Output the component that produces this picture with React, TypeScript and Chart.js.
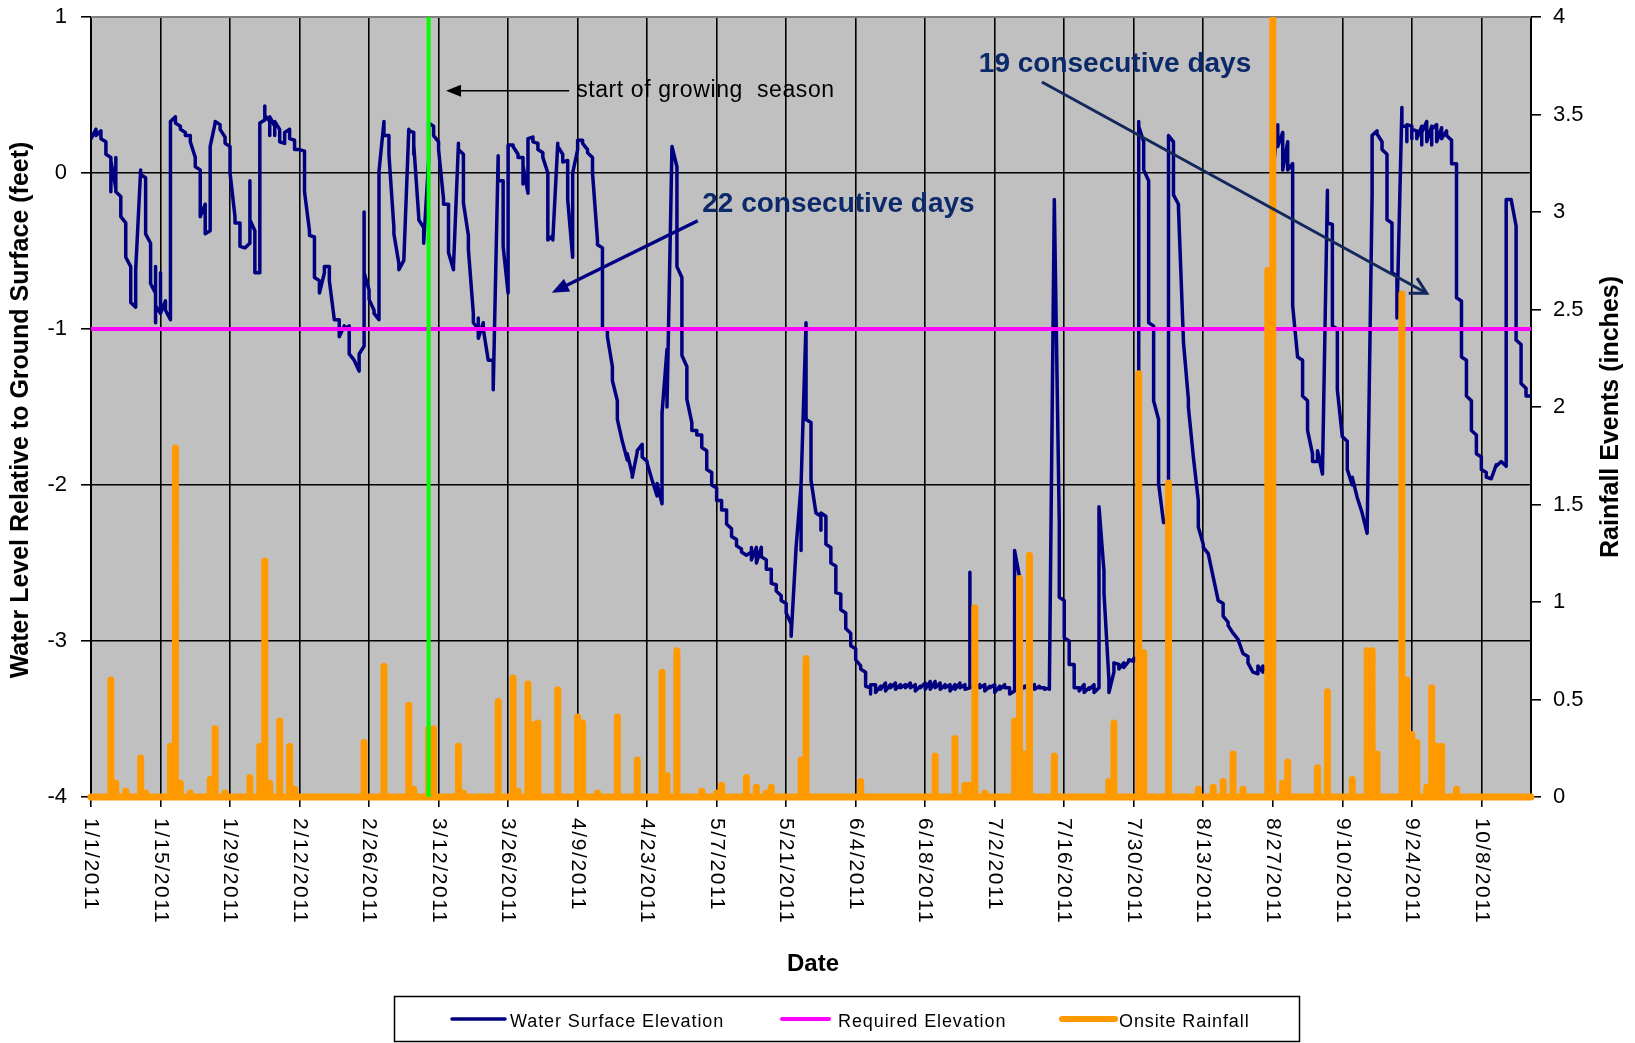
import React, { useEffect, useRef } from 'react';
import { Chart, registerables } from 'chart.js';

Chart.register(...registerables);

// ---------------- DATA ----------------
const YEAR = 2011;
const monthStartDay = [0, 31, 59, 90, 120, 151, 181, 212, 243, 273, 304, 334];

// Water level readings (feet relative to ground surface): [day of month, ...readings that day]
const waterJan = [
  [1, 0.25, 0.22], [2, 0.28, 0.24], [3, 0.27, 0.22], [4, 0.2, 0.12], [5, 0.1, -0.12, 0.08],
  [6, -0.1, 0.1, -0.12], [7, -0.15, -0.28], [8, -0.32, -0.54], [9, -0.6, -0.62, -0.83], [10, -0.86, -0.62],
  [11, 0.02, -0.01], [12, -0.03, -0.39], [13, -0.45, -0.71], [14, -0.77, -0.6, -0.96, -0.85], [15, -0.9, -0.64, -0.9],
  [16, -0.82, -0.88], [17, -0.94, 0.33], [18, 0.36, 0.32], [19, 0.3, 0.28], [20, 0.26, 0.24],
  [21, 0.24, 0.2], [22, 0.1, 0.04], [23, 0.02, -0.28], [24, -0.2, -0.39], [25, -0.37, 0.15, 0.17],
  [26, 0.32, 0.33], [27, 0.31, 0.28], [28, 0.23, 0.19], [29, 0.17, 0.0], [30, -0.28, -0.32], [31, -0.32, -0.47],
];
const waterFeb = [
  [1, -0.48], [2, -0.45, -0.05, -0.3], [3, -0.37, -0.64], [4, -0.64, 0.32], [5, 0.34, 0.43, 0.37],
  [6, 0.33, 0.24, 0.36], [7, 0.3, 0.24, 0.33], [8, 0.28, 0.2], [9, 0.19, 0.26], [10, 0.28, 0.22],
  [11, 0.21, 0.15], [12, 0.15], [13, 0.14, -0.12], [14, -0.37, -0.4], [15, -0.41, -0.67],
  [16, -0.69, -0.77], [17, -0.64, -0.6], [18, -0.6, -0.69], [19, -0.94], [20, -0.94, -1.05],
  [21, -0.98, -1.0], [22, -0.98, -1.16], [23, -1.2], [24, -1.27, -1.16], [25, -1.11, -0.25, -0.64],
  [26, -0.75, -0.81], [27, -0.88, -0.9], [28, -0.94, 0.01],
];
const waterMar = [
  [1, 0.33, 0.24], [2, 0.24, 0.12], [3, -0.35, -0.39], [4, -0.58, -0.62], [5, -0.56, -0.56],
  [6, 0.28, 0.27], [7, 0.26, 0.12, 0.18], [8, -0.28, -0.3], [9, -0.35, -0.45], [10, 0.08, 0.32],
  [11, 0.3, 0.24], [12, 0.2, 0.15], [13, -0.17, -0.2], [14, -0.2, -0.51], [15, -0.62, -0.6],
  [16, 0.19, 0.15], [17, 0.12, -0.19], [18, -0.4, -0.49], [19, -0.9, -0.96], [20, -1.0, -0.93, -1.06],
  [21, -0.96, -1.0], [22, -1.2, -1.2], [23, -1.2, -1.39], [24, 0.11, -0.05], [25, -0.05, -0.47],
  [26, -0.77, 0.18], [27, 0.18, 0.17], [28, 0.12, 0.1], [29, 0.1, -0.07, 0.05], [30, -0.13, 0.22], [31, 0.23, 0.2],
];
const waterApr = [
  [1, 0.19, 0.15], [2, 0.13, 0.1], [3, 0.0, -0.43], [4, -0.4, -0.43], [5, 0.19, 0.17],
  [6, 0.12, 0.07], [7, 0.08, -0.17], [8, -0.54, 0.0], [9, 0.15, 0.21], [10, 0.21, 0.19],
  [11, 0.15, 0.13], [12, 0.1, 0.0], [13, -0.43, -0.46], [14, -0.48, -1.0], [15, -1.0, -1.05],
  [16, -1.24, -1.24, -1.33], [17, -1.46, -1.58], [18, -1.72, -1.72], [19, -1.84, -1.8], [20, -1.93, -1.95],
  [21, -1.79, -1.78], [22, -1.74, -1.82], [23, -1.85, -1.86], [24, -1.97, -1.97], [25, -2.07, -1.99],
  [26, -2.12, -1.54], [27, -1.13, -1.5], [28, 0.17, 0.17], [29, 0.04, -0.6], [30, -0.67, -1.17],
];
const waterMay = [
  [1, -1.24, -1.45], [2, -1.6, -1.65], [3, -1.65, -1.68], [4, -1.68, -1.76], [5, -1.78, -1.9],
  [6, -1.92, -2.0], [7, -2.02, -2.1], [8, -2.1, -2.16], [9, -2.16, -2.25], [10, -2.28, -2.33],
  [11, -2.35, -2.39], [12, -2.41, -2.43], [13, -2.45, -2.45], [14, -2.43, -2.4, -2.48], [15, -2.4, -2.5],
  [16, -2.4, -2.46], [17, -2.48, -2.54], [18, -2.54, -2.63], [19, -2.64, -2.68], [20, -2.71, -2.74],
  [21, -2.76, -2.82], [22, -2.89, -2.97], [23, -2.4], [24, -2.0, -2.42, -2.0], [25, -0.96, -1.58],
  [26, -1.6, -1.97], [27, -2.18], [28, -2.2, -2.29, -2.18], [29, -2.2, -2.38], [30, -2.4, -2.5], [31, -2.52, -2.69],
];
const waterJun = [
  [1, -2.7, -2.8], [2, -2.82, -2.92], [3, -2.95, -3.03], [4, -3.05, -3.12], [5, -3.16, -3.18],
  [6, -3.2, -3.29], [7, -3.3, -3.34, -3.28], [8, -3.28, -3.33], [9, -3.29, -3.31], [10, -3.27, -3.32],
  [11, -3.28, -3.3], [12, -3.27, -3.31], [13, -3.28, -3.3], [14, -3.28, -3.3], [15, -3.27, -3.3],
  [16, -3.28, -3.32], [17, -3.29, -3.3], [18, -3.27, -3.31], [19, -3.26, -3.31], [20, -3.26, -3.3],
  [21, -3.27, -3.31], [22, -3.28, -3.3], [23, -3.28, -3.32], [24, -3.28, -3.31], [25, -3.27, -3.3],
  [26, -3.28, -3.31], [27, -3.3, -2.56, -3.3], [28, -3.28, -3.31], [29, -3.28, -3.3], [30, -3.28, -3.32],
];
const waterJul = [
  [1, -3.29, -3.3], [2, -3.28, -3.33], [3, -3.29, -3.31], [4, -3.28, -3.3], [5, -3.3, -3.34],
  [6, -3.32, -2.42], [7, -2.59, -3.32], [8, -3.29, -3.3], [9, -3.27, -3.3], [10, -3.28, -3.31],
  [11, -3.29, -3.3], [12, -3.3, -3.31], [13, -3.3, -3.31], [14, -0.17], [15, -2.24, -2.31, -2.72],
  [16, -2.74, -2.98], [17, -3.0, -3.15], [18, -3.15, -3.3], [19, -3.3, -3.32], [20, -3.28, -3.33],
  [21, -3.3, -3.31], [22, -3.28, -3.33], [23, -3.3, -2.14], [24, -2.55, -2.69], [25, -3.25, -3.33],
  [26, -3.2, -3.14], [27, -3.15, -3.18], [28, -3.14, -3.17], [29, -3.13, -3.12], [30, -3.13, -3.11],
  [31, -3.12, 0.33, 0.1, 0.3],
];
const waterAug = [
  [1, 0.2, 0.02], [2, -0.05, -0.96], [3, -0.98, -1.46], [4, -1.58, -1.99], [5, -2.24],
  [6, -2.24, 0.24], [7, 0.2, -0.14], [8, -0.2, -0.22], [9, -1.07, -1.08], [10, -1.45, -1.5],
  [11, -1.82], [12, -2.1, -2.27], [13, -2.38, -2.4], [14, -2.44, -2.44], [15, -2.59],
  [16, -2.74], [17, -2.76, -2.84], [18, -2.88, -2.9], [19, -2.95, -2.95], [20, -2.99],
  [21, -3.08], [22, -3.1, -3.14], [23, -3.2], [24, -3.21, -3.16], [25, -3.2, -3.16],
  [26, -3.2, -3.16], [27, -0.6, 0.0], [28, 0.31, 0.17], [29, 0.26, 0.02], [30, 0.2, 0.02], [31, 0.06, -0.8, -0.85],
];
const waterSep = [
  [1, -1.18], [2, -1.2, -1.43], [3, -1.46, -1.65], [4, -1.8, -1.85], [5, -1.85, -1.78],
  [6, -1.93, -1.8, -1.93], [7, -0.11, -0.32], [8, -0.33, -0.98], [9, -1.0, -1.39], [10, -1.69],
  [11, -1.72, -1.9], [12, -2.0, -1.95], [13, -2.08], [14, -2.18], [15, -2.31, -2.3],
  [16, -0.14, 0.24], [17, 0.27, 0.25], [18, 0.2, 0.15], [19, 0.12, -0.3], [20, -0.32, -0.64],
  [21, -0.66, -0.85, -0.93], [22, 0.42, 0.3], [23, 0.3, 0.2, 0.31], [24, 0.3, 0.22, 0.28], [25, 0.27, 0.22],
  [26, 0.3, 0.18, 0.26], [27, 0.33, 0.2], [28, 0.3, 0.18, 0.28], [29, 0.31, 0.2], [30, 0.29, 0.22],
];
const waterOct = [
  [1, 0.27, 0.24], [2, 0.21, 0.06], [3, 0.06, -0.8], [4, -0.82, -1.18], [5, -1.2, -1.43],
  [6, -1.46, -1.65], [7, -1.68, -1.8], [8, -1.82, -1.9], [9, -1.92, -1.95], [10, -1.96],
  [11, -1.87, -1.88], [12, -1.85], [13, -1.88, -0.17], [14, -0.17, -0.17], [15, -0.34, -1.07],
  [16, -1.1, -1.35], [17, -1.38, -1.43], [18, -1.43],
];

// Onsite rainfall (inches): [day of month, inches]
const rainJan = [[5, 0.6], [6, 0.07], [8, 0.03], [11, 0.2], [12, 0.02], [17, 0.26], [18, 1.79], [19, 0.07], [21, 0.02], [25, 0.09], [26, 0.35], [28, 0.02]];
const rainFeb = [[2, 0.1], [4, 0.26], [5, 1.21], [6, 0.07], [8, 0.39], [10, 0.26], [11, 0.04], [25, 0.28]];
const rainMar = [[1, 0.67], [6, 0.47], [7, 0.04], [10, 0.35], [11, 0.35], [16, 0.26], [17, 0.02], [24, 0.49], [27, 0.61], [28, 0.03], [30, 0.58], [31, 0.37]];
const rainApr = [[1, 0.38], [5, 0.55], [9, 0.41], [10, 0.38], [13, 0.02], [17, 0.41], [21, 0.19], [26, 0.64], [27, 0.11], [29, 0.75]];
const rainMay = [[4, 0.03], [7, 0.02], [8, 0.06], [13, 0.1], [15, 0.05], [17, 0.02], [18, 0.05], [24, 0.19], [25, 0.71]];
const rainJun = [[5, 0.08], [20, 0.21], [24, 0.3], [26, 0.06], [27, 0.06], [28, 0.97], [30, 0.02]];
const rainJul = [[6, 0.39], [7, 1.12], [8, 0.22], [9, 1.24], [14, 0.21], [25, 0.08], [26, 0.38], [31, 2.17]];
const rainAug = [[1, 0.74], [6, 1.61], [12, 0.04], [15, 0.05], [17, 0.08], [19, 0.22], [21, 0.04], [26, 2.7], [27, 4.4], [29, 0.07], [30, 0.18]];
const rainSep = [[5, 0.15], [7, 0.54], [12, 0.09], [15, 0.75], [16, 0.75], [17, 0.22], [22, 2.58], [23, 0.6], [24, 0.32], [25, 0.28], [27, 0.05], [28, 0.56], [29, 0.26], [30, 0.26]];
const rainOct = [[3, 0.04]];

const dateTickLabels = [
  '1/1/2011', '1/15/2011', '1/29/2011', '2/12/2011', '2/26/2011', '3/12/2011', '3/26/2011',
  '4/9/2011', '4/23/2011', '5/7/2011', '5/21/2011', '6/4/2011', '6/18/2011', '7/2/2011',
  '7/16/2011', '7/30/2011', '8/13/2011', '8/27/2011', '9/10/2011', '9/24/2011', '10/8/2011',
];
const axisStartDate = '1/1/2011';
const axisEndDate = '10/18/2011';
const growingSeasonStart = '3/10/2011';
const requiredElevation = -1;
const waterAxisTicks = [-4, -3, -2, -1, 0, 1];
const rainAxisTicks = [0, 0.5, 1, 1.5, 2, 2.5, 3, 3.5, 4];

// ---------------- helpers ----------------
function dayIndex(dateStr: string): number {
  const [m, d, y] = dateStr.split('/').map(Number);
  return Math.round((Date.UTC(y, m - 1, d) - Date.UTC(YEAR, 0, 1)) / 86400000);
}

const waterMonths = [waterJan, waterFeb, waterMar, waterApr, waterMay, waterJun, waterJul, waterAug, waterSep, waterOct];
const rainMonths = [rainJan, rainFeb, rainMar, rainApr, rainMay, rainJun, rainJul, rainAug, rainSep, rainOct];

const endDay = dayIndex(axisEndDate);
const startDay = dayIndex(axisStartDate);

const waterPoints: { x: number; y: number }[] = [];
waterMonths.forEach((rows, mi) => {
  rows.forEach((row) => {
    const day = monthStartDay[mi] + row[0] - 1;
    for (let k = 1; k < row.length; k++) waterPoints.push({ x: day, y: row[k] });
  });
});

const rainPoints: { x: number; y: number }[] = [{ x: startDay, y: 0 }];
rainMonths.forEach((rows, mi) => {
  rows.forEach(([dom, v]) => {
    const day = monthStartDay[mi] + dom - 1;
    rainPoints.push({ x: day, y: 0 }, { x: day, y: v }, { x: day, y: 0 });
  });
});
rainPoints.push({ x: endDay, y: 0 });

const gsDay = dayIndex(growingSeasonStart);

const FONT = "'Liberation Sans', Arial, Helvetica, sans-serif";

function drawArrow(ctx: CanvasRenderingContext2D, x1: number, y1: number, x2: number, y2: number,
  color: string, width: number, filled: boolean, len: number, half: number) {
  const ang = Math.atan2(y2 - y1, x2 - x1);
  ctx.save();
  ctx.strokeStyle = color;
  ctx.fillStyle = color;
  ctx.lineWidth = width;
  ctx.lineCap = 'butt';
  ctx.lineJoin = 'miter';
  if (filled) {
    const bx = x2 - Math.cos(ang) * len;
    const by = y2 - Math.sin(ang) * len;
    ctx.beginPath();
    ctx.moveTo(x1, y1);
    ctx.lineTo(bx + Math.cos(ang) * 2, by + Math.sin(ang) * 2);
    ctx.stroke();
    const px = -Math.sin(ang), py = Math.cos(ang);
    ctx.beginPath();
    ctx.moveTo(x2, y2);
    ctx.lineTo(bx + px * half, by + py * half);
    ctx.lineTo(bx - px * half, by - py * half);
    ctx.closePath();
    ctx.fill();
  } else {
    ctx.beginPath();
    ctx.moveTo(x1, y1);
    ctx.lineTo(x2, y2);
    ctx.stroke();
    const a1 = ang + Math.PI - 0.5, a2 = ang + Math.PI + 0.5;
    ctx.beginPath();
    ctx.moveTo(x2 + Math.cos(a1) * len, y2 + Math.sin(a1) * len);
    ctx.lineTo(x2, y2);
    ctx.lineTo(x2 + Math.cos(a2) * len, y2 + Math.sin(a2) * len);
    ctx.stroke();
  }
  ctx.restore();
}

const decorPlugin = {
  id: 'decor',
  beforeDraw(chart: any) {
    const { ctx, chartArea: a } = chart;
    ctx.save();
    ctx.fillStyle = '#ffffff';
    ctx.fillRect(0, 0, chart.width, chart.height);
    ctx.fillStyle = '#C0C0C0';
    ctx.fillRect(a.left, a.top, a.right - a.left, a.bottom - a.top);
    ctx.restore();
  },
  beforeDatasetsDraw(chart: any) {
    const { ctx, chartArea: a } = chart;
    ctx.save();
    ctx.strokeStyle = '#808080';
    ctx.lineWidth = 2;
    ctx.beginPath();
    ctx.moveTo(a.left, a.top);
    ctx.lineTo(a.right, a.top);
    ctx.stroke();
    ctx.restore();
  },
  afterDraw(chart: any) {
    const { ctx, chartArea: a } = chart;
    const xs = chart.scales.x;
    const ys = chart.scales.y;
    const X = (v: number) => xs.getPixelForValue(v);
    const Y = (v: number) => ys.getPixelForValue(v);

    ctx.save();
    // x tick labels, rotated to read downward
    ctx.fillStyle = '#000';
    ctx.font = `21px ${FONT}`;
    (ctx as any).letterSpacing = '1.6px';
    ctx.textAlign = 'left';
    ctx.textBaseline = 'middle';
    dateTickLabels.forEach((lab) => {
      const px = X(dayIndex(lab));
      ctx.save();
      ctx.translate(px, a.bottom + 21);
      ctx.rotate(Math.PI / 2);
      ctx.fillText(lab, 0, 0);
      ctx.restore();
    });
    (ctx as any).letterSpacing = '0px';

    // axis titles
    ctx.font = `bold 25px ${FONT}`;
    ctx.textAlign = 'center';
    ctx.textBaseline = 'middle';
    ctx.save();
    ctx.translate(21, (a.top + a.bottom) / 2 + 3);
    ctx.rotate(-Math.PI / 2);
    ctx.fillText('Water Level Relative to Ground Surface (feet)', 0, 0);
    ctx.restore();
    ctx.save();
    ctx.translate(1611, (a.top + a.bottom) / 2 + 10);
    ctx.rotate(-Math.PI / 2);
    ctx.fillText('Rainfall Events (inches)', 0, 0);
    ctx.restore();
    ctx.font = `bold 24px ${FONT}`;
    ctx.fillText('Date', (a.left + a.right) / 2 + 2, 964);

    // annotations
    drawArrow(ctx, X(96.3), Y(0.528), X(71.5), Y(0.528), '#000000', 1.5, true, 15, 6);
    ctx.font = `23px ${FONT}`;
    (ctx as any).letterSpacing = '0.6px';
    ctx.textAlign = 'left';
    ctx.textBaseline = 'alphabetic';
    ctx.fillStyle = '#000';
    ctx.fillText('start of growing  season', X(97.7), Y(0.487));
    (ctx as any).letterSpacing = '0px';

    drawArrow(ctx, X(122.2), Y(-0.306), X(92.8), Y(-0.767), '#000080', 3.5, true, 17, 7);
    drawArrow(ctx, X(191.5), Y(0.583), X(269.0), Y(-0.771), '#13285c', 3, false, 18, 0);

    ctx.font = `bold 28px ${FONT}`;
    ctx.fillStyle = '#0c2a6a';
    ctx.fillText('22 consecutive days', X(123.1), Y(-0.247));
    ctx.fillText('19 consecutive days', X(178.8), Y(0.649));

    // legend
    const lx = 394.5, ly = 996.5, lw = 905, lh = 45;
    ctx.fillStyle = '#fff';
    ctx.fillRect(lx, ly, lw, lh);
    ctx.strokeStyle = '#000';
    ctx.lineWidth = 1.5;
    ctx.strokeRect(lx, ly, lw, lh);
    const items = [
      { label: 'Water Surface Elevation', color: '#000080', w: 3.5, x0: 452, x1: 505, tx: 510 },
      { label: 'Required Elevation', color: '#FF00FF', w: 4, x0: 782, x1: 829, tx: 838 },
      { label: 'Onsite Rainfall', color: '#FF9900', w: 6, x0: 1062, x1: 1115, tx: 1119 },
    ];
    ctx.font = `18px ${FONT}`;
    (ctx as any).letterSpacing = '0.9px';
    ctx.textBaseline = 'alphabetic';
    items.forEach((it) => {
      ctx.strokeStyle = it.color;
      ctx.lineWidth = it.w;
      ctx.lineCap = 'round';
      ctx.beginPath();
      ctx.moveTo(it.x0, 1019);
      ctx.lineTo(it.x1, 1019);
      ctx.stroke();
      ctx.fillStyle = '#000';
      ctx.fillText(it.label, it.tx, 1027);
    });
    (ctx as any).letterSpacing = '0px';
    ctx.restore();
  },
};

export default function App() {
  const ref = useRef<HTMLCanvasElement>(null);
  useEffect(() => {
    document.body.style.margin = '0';
    Chart.defaults.font.family = FONT;
    const canvas = ref.current!;
    const chart = new Chart(canvas, {
      type: 'line',
      data: {
        datasets: [
          {
            label: 'Water Surface Elevation',
            data: waterPoints,
            borderColor: '#000080',
            borderWidth: 3.5,
            pointRadius: 0,
            yAxisID: 'y',
            order: 3,
            tension: 0,
            borderJoinStyle: 'round',
            borderCapStyle: 'round',
          },
          {
            label: 'Required Elevation',
            data: [{ x: startDay, y: requiredElevation }, { x: endDay, y: requiredElevation }],
            borderColor: '#FF00FF',
            borderWidth: 4,
            pointRadius: 0,
            yAxisID: 'y',
            order: 2,
          },
          {
            label: 'Onsite Rainfall',
            data: rainPoints,
            borderColor: '#FF9900',
            borderWidth: 7,
            pointRadius: 0,
            yAxisID: 'y1',
            order: 1,
            tension: 0,
            borderJoinStyle: 'round',
            borderCapStyle: 'round',
            clip: { left: 5, right: 5, top: 0, bottom: 5 },
          },
          {
            label: 'Start of growing season',
            data: [{ x: gsDay, y: waterAxisTicks[0] }, { x: gsDay, y: waterAxisTicks[waterAxisTicks.length - 1] }],
            borderColor: '#00FF00',
            borderWidth: 4,
            pointRadius: 0,
            yAxisID: 'y',
            order: 0,
            clip: 0,
          },
        ],
      } as any,
      options: {
        animation: false,
        responsive: false,
        devicePixelRatio: 1,
        layout: { padding: { top: 17, left: 0, right: 0, bottom: 0 } },
        plugins: { legend: { display: false }, tooltip: { enabled: false } },
        scales: {
          x: {
            type: 'linear',
            min: startDay,
            max: endDay,
            afterBuildTicks: (s: any) => {
              s.ticks = dateTickLabels.map((l) => ({ value: dayIndex(l) }));
            },
            ticks: { display: false, autoSkip: false },
            grid: { color: '#000', lineWidth: 1.6, tickLength: 10, drawTicks: true },
            border: { color: '#000', width: 2 },
            afterFit: (s: any) => { s.height = 246; s.paddingLeft = 0; s.paddingRight = 0; },
          },
          y: {
            type: 'linear',
            position: 'left',
            min: waterAxisTicks[0],
            max: waterAxisTicks[waterAxisTicks.length - 1],
            afterBuildTicks: (s: any) => { s.ticks = waterAxisTicks.map((v) => ({ value: v })); },
            ticks: { color: '#000', font: { size: 22, family: FONT }, padding: 14, callback: (v: any) => String(v) },
            grid: { color: '#000', lineWidth: 1.6, tickLength: 10 },
            border: { color: '#000', width: 2 },
            afterFit: (s: any) => { s.width = 91; s.paddingTop = 0; s.paddingBottom = 0; },
          },
          y1: {
            type: 'linear',
            position: 'right',
            min: rainAxisTicks[0],
            max: rainAxisTicks[rainAxisTicks.length - 1],
            afterBuildTicks: (s: any) => { s.ticks = rainAxisTicks.map((v) => ({ value: v })); },
            ticks: { color: '#000', font: { size: 22, family: FONT }, padding: 12, callback: (v: any) => String(v) },
            grid: { drawOnChartArea: false, color: '#000', lineWidth: 1.6, tickLength: 10 },
            border: { color: '#000', width: 2 },
            afterFit: (s: any) => { s.width = 104; s.paddingTop = 0; s.paddingBottom = 0; },
          },
        },
      } as any,
      plugins: [decorPlugin],
    });
    return () => chart.destroy();
  }, []);
  return (
    <div style={{ position: 'absolute', left: 0, top: 0, width: 1635, height: 1043, background: '#fff' }}>
      <canvas ref={ref} width={1635} height={1043} style={{ display: 'block', width: 1635, height: 1043 }} />
    </div>
  );
}
